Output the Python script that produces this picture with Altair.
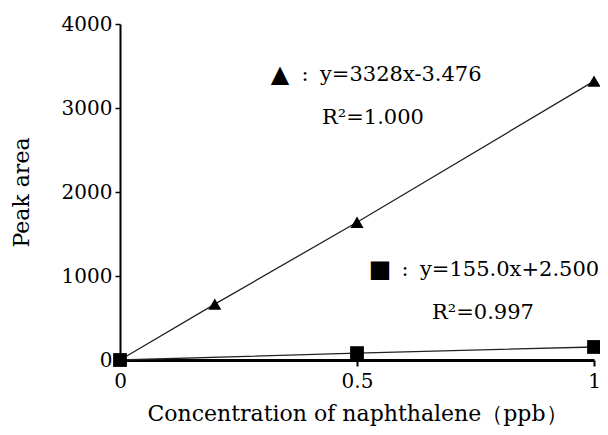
import altair as alt
import pandas as pd

# Data
x_tri = [0.0, 0.2, 0.5, 1.0]
y_tri = [0, 665, 1640, 3320]
x_sq = [0.0, 0.5, 1.0]
y_sq = [0, 82, 155]

ann_texts = ["▲", ":", "y=3328x-3.476", "R²=1.000", "■", ":", "y=155.0x+2.500", "R²=0.997"]

FONT = "DejaVu Serif"

tri = pd.DataFrame({"x": x_tri, "y": y_tri})
sq = pd.DataFrame({"x": x_sq, "y": y_sq})

xs = alt.Scale(domain=[0, 1], nice=False, zero=False)
ys = alt.Scale(domain=[0, 4000], nice=False)

xenc = alt.X("x:Q", scale=xs, title="Concentration of naphthalene（ppb）",
             axis=alt.Axis(values=[0, 0.5, 1], format="~g", grid=False, labelFlush=False,
                           domainWidth=3, domainColor="black", tickColor="black",
                           tickSize=6, tickWidth=2, labelPadding=5,
                           labelFont=FONT, labelFontSize=20, labelColor="black",
                           titleFont=FONT, titleFontSize=22, titleFontWeight="normal",
                           titleColor="black", titlePadding=12))
yenc = alt.Y("y:Q", scale=ys, title="Peak area",
             axis=alt.Axis(values=[0, 1000, 2000, 3000, 4000], format="d", grid=False,
                           labelFlush=False,
                           domainWidth=2, domainColor="black", tickColor="black",
                           tickSize=5, tickWidth=1.5, labelPadding=3,
                           labelFont=FONT, labelFontSize=20, labelColor="black",
                           titleFont=FONT, titleFontSize=22, titleFontWeight="normal",
                           titleColor="black", titlePadding=28))

tri_line = alt.Chart(tri).mark_line(color="#222", strokeWidth=1.3).encode(x=xenc, y=yenc)
tri_pts = alt.Chart(tri).mark_point(shape="triangle-up", filled=True, color="black",
                                    size=170, opacity=1).encode(x="x:Q", y="y:Q")
sq_line = alt.Chart(sq).mark_line(color="#222", strokeWidth=1.3).encode(x="x:Q", y="y:Q")
sq_pts = alt.Chart(sq).mark_point(shape="square", filled=True, color="black",
                                  size=190, opacity=1).encode(x="x:Q", y="y:Q")

def txt(s, px, py, size=21, font=FONT, align="left"):
    return alt.Chart(pd.DataFrame({"t": [s]})).mark_text(
        align=align, baseline="middle", font=font, fontSize=size, color="black"
    ).encode(x=alt.value(px), y=alt.value(py), text="t:N")

annots = [
    txt(ann_texts[0], 160, 51, size=24, font="DejaVu Sans", align="center"),
    txt(ann_texts[1], 185, 51, align="center"),
    txt(ann_texts[2], 200, 51),
    txt(ann_texts[3], 202, 94),
    txt(ann_texts[4], 260, 246, size=24, font="DejaVu Sans", align="center"),
    txt(ann_texts[5], 285, 246, align="center"),
    txt(ann_texts[6], 300, 246),
    txt(ann_texts[7], 312, 289),
]

chart = alt.layer(tri_line, sq_line, tri_pts, sq_pts, *annots).properties(
    width=474, height=336,
    autosize=alt.AutoSizeParams(type="none"),
    padding={"left": 112, "top": 16, "right": 6, "bottom": 67},
).configure_view(stroke=None)

chart.save("out.html", embed_options={"renderer": "svg", "actions": False})
